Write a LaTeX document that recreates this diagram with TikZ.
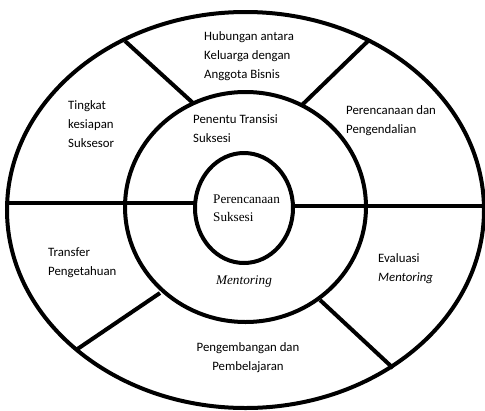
\documentclass[tikz,border=0pt]{standalone}
\usepackage{fontspec}
\setmainfont{Liberation Serif}
\newfontfamily\calibri{Carlito}
\usetikzlibrary{positioning}

\tikzset{
  ring/.style={line width=4pt},
  label/.style={inner sep=0pt, align=left, font=\calibri\fontsize{12.8}{19}\selectfont},
  core/.style={inner sep=0pt, align=left, font=\fontsize{13.2}{18}\selectfont}
}

\begin{document}
\begin{tikzpicture}[x=1pt,y=-1pt]
    \useasboundingbox (0,0) rectangle (485,410);
    % three rings
    \draw[ring] (245.5,210) ellipse (238.5pt and 198pt);
    \draw[ring] (245.5,207) ellipse (120.5pt and 115pt);
    \draw[ring] (244,208) ellipse (49pt and 55pt);
    % end points of the dividers
    \coordinate (ulout) at (125,41);
    \coordinate (ulmid) at (193,103);
    \coordinate (urout) at (368,41);
    \coordinate (urmid) at (302,105);
    \coordinate (llout) at (76,350);
    \coordinate (llmid) at (160,293);
    \coordinate (lrout) at (393,368);
    \coordinate (lrmid) at (320,300);
    \coordinate (lout) at (7,203);
    \coordinate (lin) at (195,203);
    \coordinate (rin) at (293,206);
    \coordinate (rout) at (485,206);
    \draw[ring] (ulout) -- (ulmid);
    \draw[ring] (urout) -- (urmid);
    \draw[ring] (llmid) -- (llout);
    \draw[ring] (lrmid) -- (lrout);
    \draw[ring] (lout) -- (lin);
    \draw[ring] (rin) -- (rout);
    % texts
    \node[label, anchor=west] (hubungan) at (204,56) {Hubungan antara\\Keluarga dengan\\Anggota Bisnis};
    \node[label, anchor=west] (tingkat) at (68,124) {Tingkat\\kesiapan\\Suksesor};
    \node[label, anchor=west] (penentu) at (193,128.5) {Penentu Transisi\\Suksesi};
    \node[label, anchor=west] (kendali) at (346,120.5) {Perencanaan dan\\Pengendalian};
    \node[core, anchor=west] (suksesi) at (213,208) {Perencanaan\\Suksesi};
    \node[label, anchor=west] (transfer) at (48,263) {Transfer\\Pengetahuan};
    \node[core, font=\fontsize{13.2}{18}\selectfont\itshape] (mentoring) at (244,282) {Mentoring};
    \node[label, anchor=west] (evaluasi) at (378,268.5) {Evaluasi\\\textit{Mentoring}};
    \node[label, align=center] (kembang) at (248,358) {Pengembangan dan\\Pembelajaran};
  \end{tikzpicture}
\end{document}
